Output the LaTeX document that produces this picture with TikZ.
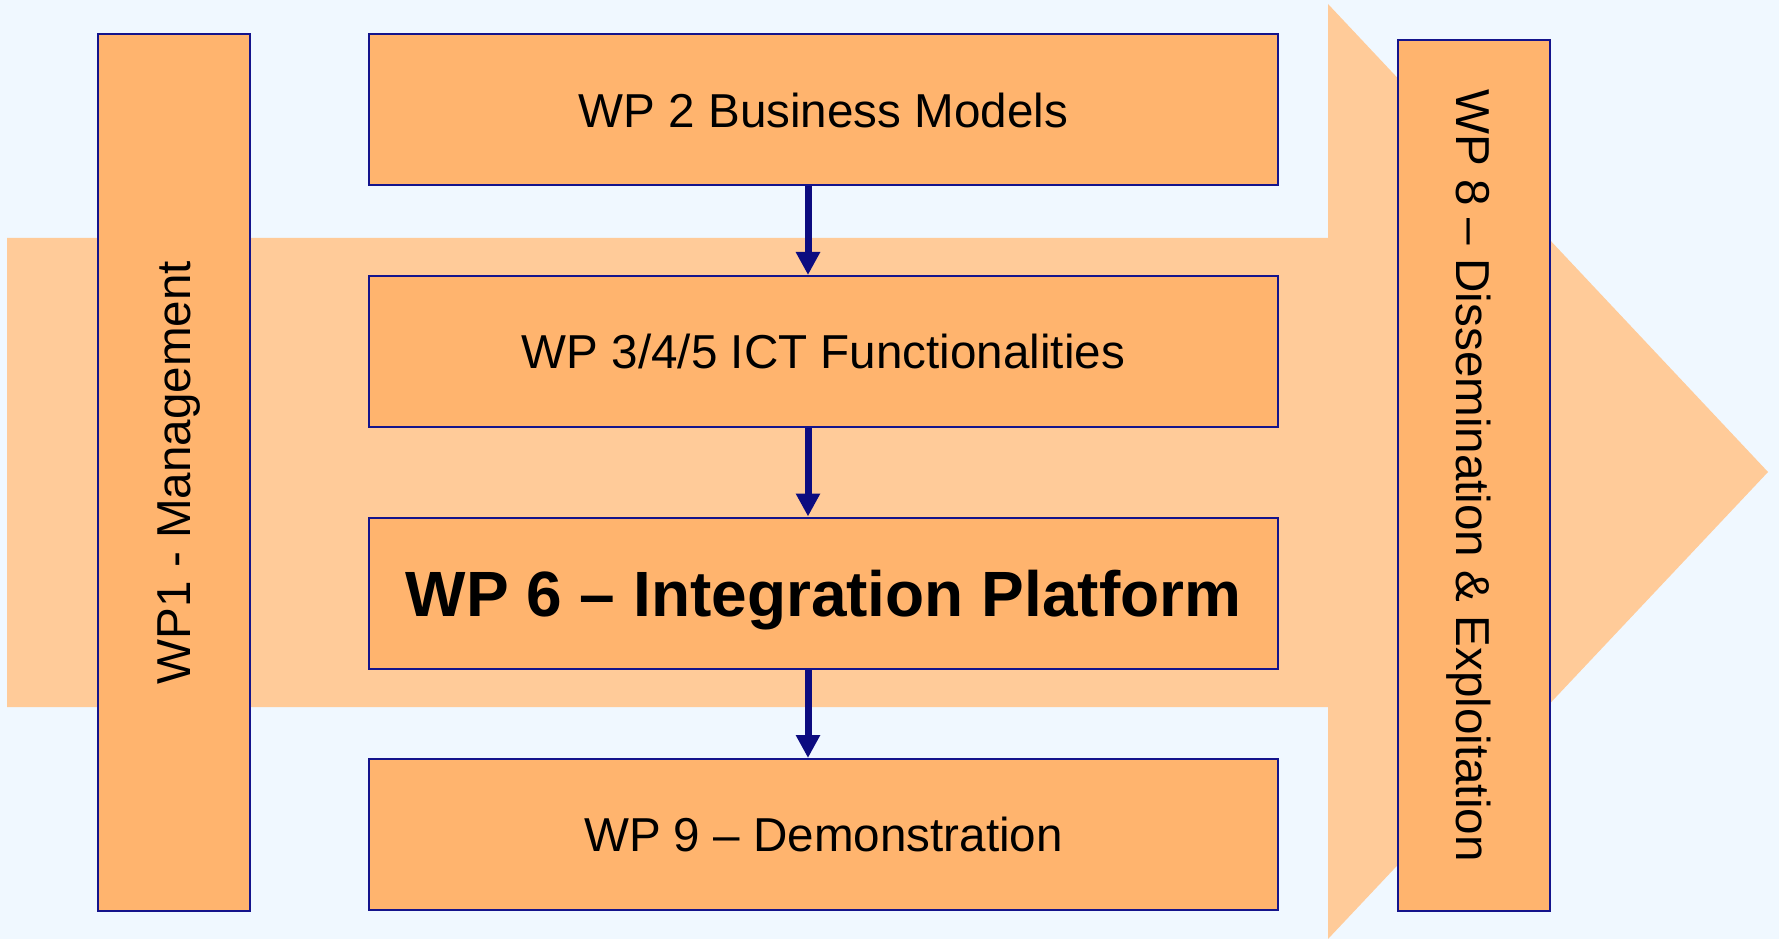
\documentclass[tikz,border=0pt]{standalone}
\usepackage{fontspec}
\setmainfont{Liberation Sans}
\usetikzlibrary{arrows.meta}
\definecolor{skyback}{RGB}{240,248,255}
\definecolor{bandfill}{RGB}{255,203,153}
\definecolor{wpfill}{RGB}{255,180,110}
\definecolor{wpline}{RGB}{20,20,140}
\definecolor{flowblue}{RGB}{12,12,128}
\begin{document}
\begin{tikzpicture}[x=.5pt,y=.5pt,
  wp/.style={draw=wpline,fill=wpfill,line width=1pt,inner sep=0pt,text depth=0pt,font=\fontsize{23.8}{28}\selectfont},
  wpwide/.style={wp,minimum width=454.5pt,minimum height=75.5pt},
  wptall/.style={wp,minimum height=75.8pt},
  flow/.style={draw=flowblue,line width=3.5pt,-{Triangle[length=11.5pt,width=11.5pt]}}]
  % background and the big arrow
  \fill[skyback] (0,0) rectangle (1779,939);
  \fill[bandfill] (7,232) -- (1328,232) -- (1328,0) -- (1768,467) -- (1328,935) -- (1328,701) -- (7,701) -- cycle;

  \node[wptall,rotate=90,minimum width=438.5pt] (wp1) at (173.75,466.5) {WP1 - Management};
  \node[wpwide] (wp2) at (823.5,829) {WP 2 Business Models};
  \node[wpwide] (wp345) at (823.5,587.5) {WP 3/4/5 ICT Functionalities};
  \node[wpwide,font=\fontsize{32}{38}\selectfont\bfseries] (wp6) at (823.5,346) {WP 6 -- Integration Platform};
  \node[wpwide] (wp9) at (823.5,104.5) {WP 9 -- Demonstration};
  \node[wptall,rotate=-90,minimum width=435.5pt] (wp8) at (1474,463.5) {WP 8 -- Dissemination \& Exploitation};

  \coordinate (axis) at (808,0);
  \draw[flow] (wp2.south -| axis) -- (wp345.north -| axis);
  \draw[flow] (wp345.south -| axis) -- (wp6.north -| axis);
  \draw[flow] (wp6.south -| axis) -- (wp9.north -| axis);
\end{tikzpicture}
\end{document}
